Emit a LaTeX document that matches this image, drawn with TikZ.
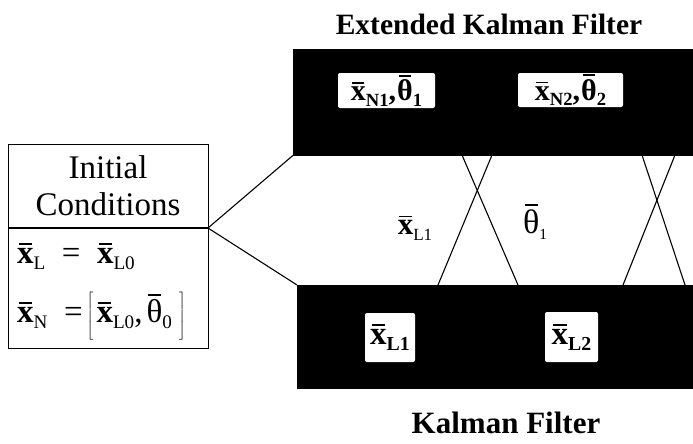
\documentclass[tikz,border=0pt]{standalone}
\usepackage{fontspec}
\setmainfont{Liberation Serif}
% bar over a symbol, drawn as a rule
\newcommand\ovl[1]{{\setbox0\hbox{#1}\vbox{\offinterlineskip\hbox to\wd0{\hss\rule{0.8\wd0}{0.06em}\hss}\kern0.1em\box0}}}
\newcommand\barx{\ovl{\bfseries x}}
\newcommand\barth{\ovl{θ}}
% small lowered subscript
\newcommand\subs[2][0.58]{\raisebox{-0.4ex}{\scalebox{#1}{#2}}}
% tall thin brackets
\newcommand\lbrk{$\left[\vrule height 30pt depth 12pt width 0pt\right.$}
\newcommand\rbrk{$\left.\vrule height 30pt depth 12pt width 0pt\right]$}
\begin{document}
\begin{tikzpicture}[x=1pt,y=-1pt,
  filterband/.style={fill=black,draw=black,inner sep=0pt,anchor=north west},
  slot/.style={fill=white,inner sep=0pt,rounded corners=2pt,font=\fontsize{30}{34}\selectfont\bfseries},
  icbox/.style={draw,line width=1.3pt,inner sep=0pt,anchor=north west},
  link/.style={line width=1.1pt},
  title/.style={font=\fontsize{29.5}{34}\selectfont\bfseries},
  eqtext/.style={font=\fontsize{33}{38}\selectfont,inner sep=0pt},
]
\useasboundingbox (0,0) rectangle (693,444);

% filter bands
\node[filterband,minimum width=400pt,minimum height=106pt] (ekf) at (293,49) {};
\node[filterband,minimum width=396pt,minimum height=103pt] (kf) at (297,285) {};

% estimate slots inside the bands
\node[slot,minimum width=97pt,minimum height=35pt] (n1) at (386.5,90.5) {\barx\subs[0.62]{N1},\kern1pt\barth\subs[0.62]{1}};
\node[slot,minimum width=105pt,minimum height=34pt] (n2) at (570.5,90) {\barx\subs[0.62]{N2},\kern1pt\barth\subs[0.62]{2}};
\node[slot,minimum width=50pt,minimum height=49pt,font=\fontsize{33}{38}\selectfont\bfseries] (l1) at (390,337.5) {\barx\subs[0.6]{L1}};
\node[slot,minimum width=53pt,minimum height=50pt,font=\fontsize{33}{38}\selectfont\bfseries] (l2) at (571.5,337) {\barx\subs[0.6]{L2}};

% titles
\node[title] (ekftitle) at (489,24) {Extended Kalman Filter};
\node[title,font=\fontsize{31}{36}\selectfont\bfseries] (kftitle) at (506,423) {Kalman Filter};

% initial conditions box
\node[icbox,minimum width=200pt,minimum height=204pt] (ic) at (8,144) {};
\coordinate (icl) at (8,228);
\coordinate (icr) at (208,228);
\draw[line width=1.3pt] (icl) -- (icr);
\node[font=\fontsize{33}{37}\selectfont,align=center] (ichead) at (108,186) {Initial\\Conditions};
\node[eqtext,anchor=west] (eq1) at (17,256) {\barx\subs{L}\enspace=\enspace\barx\subs{L0}};
\node[eqtext,anchor=west] (eq2) at (17,316) {\barx\subs{N}\enspace=\kern4pt\lbrk\kern2pt\barx\subs{L0},\kern4pt\barth\subs{0}\kern6pt\rbrk};

% links from the initial conditions to both filters
\draw[link] (icr) -- (ekf.south west);
\draw[link] (icr) -- (kf.north west);

% exchange lines between the filters
\coordinate (a1) at (462,155);
\coordinate (a2) at (492,155);
\coordinate (b1) at (438,285);
\coordinate (b2) at (518,285);
\coordinate (c1) at (642,155);
\coordinate (c2) at (675,155);
\coordinate (d1) at (623,285);
\coordinate (d2) at (685,285);
\draw[link] (a1) -- (b2);
\draw[link] (a2) -- (b1);
\draw[link] (c1) -- (d2);
\draw[link] (c2) -- (d1);

% exchanged quantities
\node[eqtext,font=\fontsize{31}{36}\selectfont] (xl1) at (415,228) {\barx\subs[0.55]{L1}};
\node[eqtext,font=\fontsize{34}{38}\selectfont] (th1) at (535,222) {\barth\subs[0.45]{1}};
\end{tikzpicture}
\end{document}
